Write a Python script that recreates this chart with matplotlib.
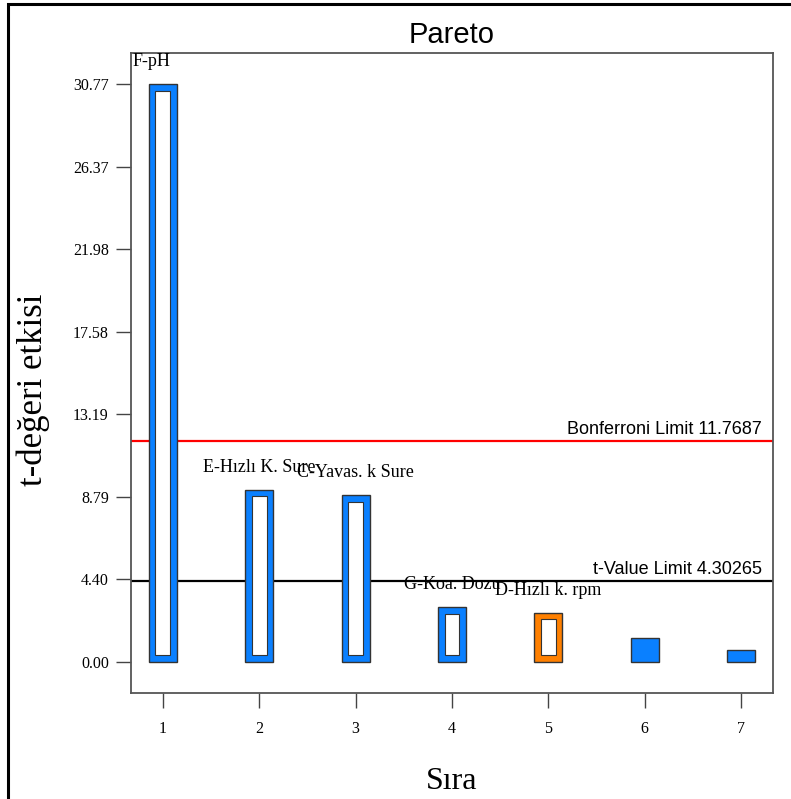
import matplotlib
matplotlib.use('Agg')
import matplotlib.pyplot as plt
from matplotlib.patches import Rectangle

# data
ranks = [1, 2, 3, 4, 5, 6, 7]
t_values = [30.77, 9.15, 8.86, 2.90, 2.61, 1.25, 0.62]
term_labels = ['F-pH', 'E-Hızlı K. Sure', 'C-Yavas. k Sure', 'G-Koa. Dozu', 'D-Hızlı k. rpm', '', '']
positive = [True, True, True, True, False, True, True]
hollow = [True, True, True, True, True, False, False]
y_ticks = [0.00, 4.40, 8.79, 13.19, 17.58, 21.98, 26.37, 30.77]
bonferroni_limit = 11.7687
t_value_limit = 4.30265

BLUE = '#0A80FF'
ORANGE = '#FF8000'
EDGE = '#333333'
SERIF = 'Liberation Serif'
SANS = 'Liberation Sans'

fig = plt.figure(figsize=(7.91, 7.99), dpi=100)
ax = fig.add_axes([0.1656, 0.1327, 0.8116, 0.8010])

# frame around the whole picture (right/bottom edges run off the image)
fig.patches.append(Rectangle((0.0101, -0.1), 1.2, 1.095, transform=fig.transFigure,
                             fill=False, edgecolor='black', linewidth=2.2, clip_on=False))

bar_w = 0.29
inner_w = 0.155
border_y = 0.35
colors = [BLUE if p else ORANGE for p in positive]
ax.bar(ranks, t_values, width=bar_w, color=colors, edgecolor=EDGE, linewidth=1, zorder=3)
for r, v, h in zip(ranks, t_values, hollow):
    if h:
        ax.bar(r, v - 2 * border_y, bottom=border_y, width=inner_w, color='white',
               edgecolor=EDGE, linewidth=0.8, zorder=4)

ax.axhline(bonferroni_limit, color='#FF0000', linewidth=1.6, zorder=2)
ax.axhline(t_value_limit, color='black', linewidth=1.6, zorder=2)
ax.text(0.983, bonferroni_limit + 0.36, 'Bonferroni Limit {}'.format(bonferroni_limit),
        transform=ax.get_yaxis_transform(), ha='right', va='baseline', fontsize=13, family=SANS)
ax.text(0.983, t_value_limit + 0.36, 't-Value Limit {}'.format(t_value_limit),
        transform=ax.get_yaxis_transform(), ha='right', va='baseline', fontsize=13, family=SANS)

for i, (r, v, lab) in enumerate(zip(ranks, t_values, term_labels)):
    if not lab:
        continue
    if i == 0:
        ax.text(r - 0.31, v + 1.2, lab, ha='left', va='center', fontsize=13, family=SERIF, zorder=5)
    else:
        ax.text(r, v + 1.2, lab, ha='center', va='center', fontsize=13, family=SERIF, zorder=5)

ax.set_xlim(0.67, 7.33)
ax.set_ylim(-1.67, 32.43)
ax.set_xticks(ranks)
ax.set_yticks(y_ticks)
ax.set_yticklabels(['{:.2f}'.format(t) for t in y_ticks])
ax.tick_params(axis='both', direction='out', length=11, width=1, color='#444444',
               labelsize=11.5, pad=5)
ax.tick_params(axis='x', pad=9)
for lab in ax.get_xticklabels() + ax.get_yticklabels():
    lab.set_family(SERIF)
for sp in ax.spines.values():
    sp.set_color('#555555')
    sp.set_linewidth(1.3)

ax.set_title('Pareto', fontsize=21, family=SANS, pad=7)
ax.set_xlabel('Sıra', fontsize=23, family=SERIF)
ax.set_ylabel('t-değeri etkisi', fontsize=25, family=SERIF)
ax.xaxis.set_label_coords(0.5, -0.115)
ax.yaxis.set_label_coords(-0.126, 0.473)

fig.savefig('out.png', dpi=100)
